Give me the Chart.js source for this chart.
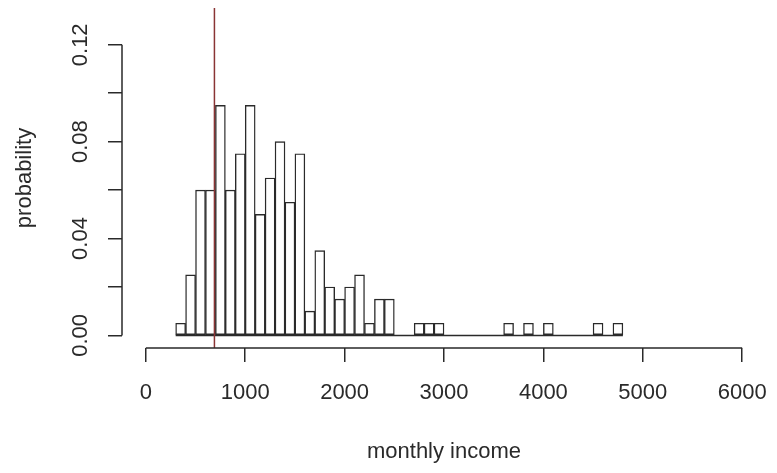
<!DOCTYPE html>
<html>
<head>
<meta charset="utf-8">
<title>monthly income histogram</title>
<script src="https://cdn.jsdelivr.net/npm/chart.js@4.4.1/dist/chart.umd.min.js"></script>
<style>
  body { margin: 0; background: #fff; }
  #wrap { width: 777px; height: 473px; }
</style>
</head>
<body>
<div id="wrap"><canvas id="hist" width="777" height="473"></canvas></div>
<script>
// bin starts (width 100) and relative frequencies
const binStarts = [300, 400, 500, 600, 700, 800, 900, 1000, 1100, 1200, 1300, 1400, 1500, 1600, 1700,
  1800, 1900, 2000, 2100, 2200, 2300, 2400, 2500, 2600, 2700, 2800, 2900, 3000, 3100, 3200,
  3300, 3400, 3500, 3600, 3700, 3800, 3900, 4000, 4100, 4200, 4300, 4400, 4500, 4600, 4700];
const binWidth = 100;
const probs = [0.005, 0.025, 0.06, 0.06, 0.095, 0.06, 0.075, 0.095, 0.05, 0.065, 0.08, 0.055, 0.075, 0.01, 0.035,
  0.02, 0.015, 0.02, 0.025, 0.005, 0.015, 0.015, 0, 0, 0.005, 0.005, 0.005, 0, 0, 0,
  0, 0, 0, 0.005, 0, 0.005, 0, 0.005, 0, 0, 0, 0, 0.005, 0, 0.005];
const refLine = 690;

const xTicks = [0, 1000, 2000, 3000, 4000, 5000, 6000];
const yTicks = [0, 0.02, 0.04, 0.06, 0.08, 0.10, 0.12];
const yTickLabels = ['0.00', '', '0.04', '', '0.08', '', '0.12'];

// R style plot region: limits widened by 4%
const xMin = -240, xMax = 6240;
const yMin = -0.0052, yMax = 0.1352;

const ink = '#2a2a2a';
const font = { family: 'Liberation Sans, Arial, sans-serif', size: 22 };

const barData = binStarts.map((b, i) => ({ x: b + binWidth / 2, y: probs[i] }));
const lastEdge = binStarts[binStarts.length - 1] + binWidth;

// axis lines only from first to last tick, like R's axis()
const rAxes = {
  id: 'rAxes',
  afterDraw(chart) {
    const { ctx, chartArea, scales } = chart;
    ctx.save();
    ctx.strokeStyle = ink;
    ctx.lineWidth = 1.5;
    ctx.beginPath();
    ctx.moveTo(scales.x.getPixelForValue(xTicks[0]), chartArea.bottom);
    ctx.lineTo(scales.x.getPixelForValue(xTicks[xTicks.length - 1]), chartArea.bottom);
    ctx.moveTo(chartArea.left, scales.y.getPixelForValue(yTicks[0]));
    ctx.lineTo(chartArea.left, scales.y.getPixelForValue(yTicks[yTicks.length - 1]));
    ctx.stroke();
    ctx.restore();
  }
};

new Chart(document.getElementById('hist'), {
  type: 'bar',
  data: {
    datasets: [
      {
        type: 'line',
        data: [{ x: refLine, y: yMin }, { x: refLine, y: yMax }],
        borderColor: '#8a3434',
        borderWidth: 1.5,
        pointRadius: 0,
        order: 0
      },
      {
        type: 'line',
        data: [{ x: binStarts[0], y: 0 }, { x: lastEdge, y: 0 }],
        borderColor: ink,
        borderWidth: 1.5,
        pointRadius: 0,
        order: 1
      },
      {
        data: barData,
        backgroundColor: '#fff',
        borderColor: ink,
        borderWidth: 1.4,
        borderSkipped: false,
        barPercentage: 1,
        categoryPercentage: 1,
        order: 2
      }
    ]
  },
  options: {
    responsive: false,
    animation: false,
    layout: { padding: { left: 0, top: 8, right: 11, bottom: 0 } },
    plugins: { legend: { display: false }, tooltip: { enabled: false } },
    scales: {
      x: {
        type: 'linear',
        min: xMin,
        max: xMax,
        offset: false,
        afterBuildTicks: s => { s.ticks = xTicks.map(v => ({ value: v })); },
        afterFit: s => { s.height = 125; s.paddingLeft = 0; s.paddingRight = 0; },
        grid: { offset: false, drawOnChartArea: false, drawTicks: true, tickLength: 14, color: ink, lineWidth: 1.5 },
        border: { display: false },
        ticks: {
          autoSkip: false,
          maxRotation: 0,
          padding: 18,
          color: ink,
          font: font,
          callback: v => String(v)
        },
        title: {
          display: true,
          text: 'monthly income',
          color: ink,
          padding: { top: 0, bottom: 8 },
          font: font
        }
      },
      y: {
        type: 'linear',
        min: yMin,
        max: yMax,
        afterBuildTicks: s => { s.ticks = yTicks.map(v => ({ value: v })); },
        afterFit: s => { s.width = 122; s.paddingTop = 0; s.paddingBottom = 0; },
        grid: { drawOnChartArea: false, drawTicks: true, tickLength: 14, color: ink, lineWidth: 1.5 },
        border: { display: false },
        ticks: {
          autoSkip: false,
          minRotation: 90,
          maxRotation: 90,
          crossAlign: 'center',
          padding: 6,
          color: ink,
          font: font,
          callback: (v, i) => yTickLabels[i]
        },
        title: {
          display: true,
          text: 'probability',
          color: ink,
          padding: { top: 12, bottom: 0 },
          font: font
        }
      }
    }
  },
  plugins: [rAxes]
});
</script>
</body>
</html>
